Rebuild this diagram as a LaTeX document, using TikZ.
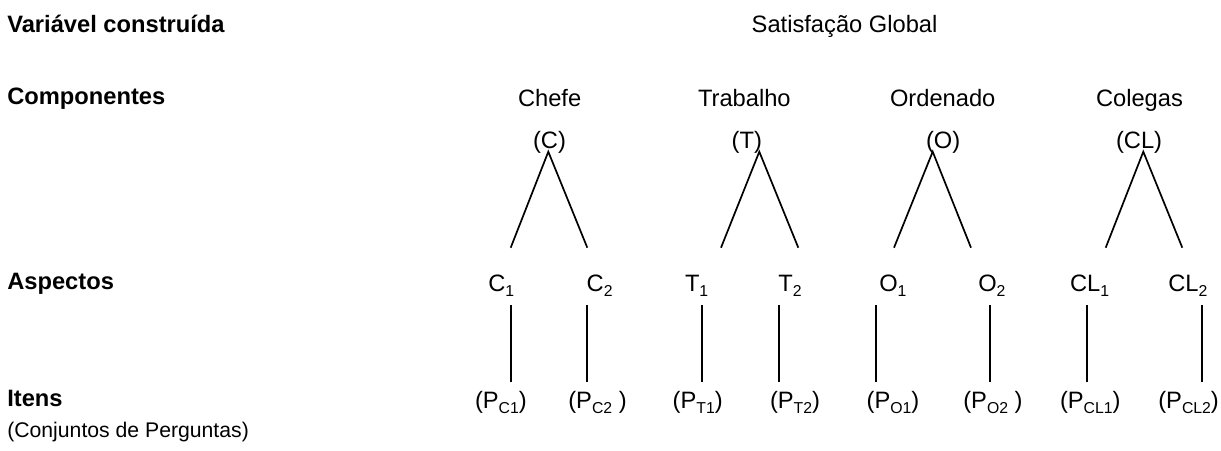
\documentclass[tikz,border=0pt]{standalone}
\usepackage{fontspec}
\setmainfont{Liberation Sans}
\newcommand\sbs[1]{\raisebox{-0.22em}{\fontsize{15.8pt}{17pt}\selectfont #1}}
\begin{document}
\begin{tikzpicture}[x=1pt,y=-1pt,
  lbl/.style={font=\fontsize{23.7pt}{28pt}\selectfont, inner sep=0pt, outer sep=0pt, anchor=base west},
  hdr/.style={lbl, font=\fontsize{23.7pt}{28pt}\selectfont\bfseries},
  small/.style={lbl, font=\fontsize{21.2pt}{25pt}\selectfont},
  edge/.style={line width=1.7pt, black}]
\useasboundingbox (0,0) rectangle (1221,450);
% left column
\node[hdr] (vc) at (7.3,32) {Variável construída};
\node[hdr] (comp) at (7.3,104.5) {Componentes};
\node[hdr] (asp) at (7.3,289.5) {Aspectos};
\node[hdr] (itn) at (7.3,406) {Itens};
\node[small] (conj) at (7.3,437) {(Conjuntos de Perguntas)};
% top
\node[lbl] (sg) at (751.7,32) {Satisfação Global};
% components
\node[lbl] (chefe) at (518,106.7) {Chefe};
\node[lbl] (trab) at (698,106.7) {Trabalho};
\node[lbl] (orden) at (890,106.7) {Ordenado};
\node[lbl] (coleg) at (1096,106.7) {Colegas};
\node[lbl] (Cc) at (533,148) {(C)};
\node[lbl] (Tc) at (731.7,148) {(T)};
\node[lbl] (Oc) at (926,148) {(O)};
\node[lbl] (CLc) at (1116,148) {(CL)};
% aspects
\node[lbl] (C1) at (488.3,291.7) {C\sbs{1}};
\node[lbl] (C2) at (586.7,291.7) {C\sbs{2}};
\node[lbl] (T1) at (685,291.7) {T\sbs{1}};
\node[lbl] (T2) at (778.3,291.7) {T\sbs{2}};
\node[lbl] (O1) at (879.3,291.7) {O\sbs{1}};
\node[lbl] (O2) at (978.3,291.7) {O\sbs{2}};
\node[lbl] (CL1) at (1070,291.7) {CL\sbs{1}};
\node[lbl] (CL2) at (1168.3,291.7) {CL\sbs{2}};
% items
\node[lbl] (PC1) at (475,408.3) {(P\sbs{C1})};
\node[lbl] (PC2) at (568.3,408.3) {(P\sbs{C2} )};
\node[lbl] (PT1) at (672.7,408.3) {(P\sbs{T1})};
\node[lbl] (PT2) at (770,408.3) {(P\sbs{T2})};
\node[lbl] (PO1) at (866.7,408.3) {(P\sbs{O1})};
\node[lbl] (PO2) at (963.3,408.3) {(P\sbs{O2} )};
\node[lbl] (PCL1) at (1060,408.3) {(P\sbs{CL1})};
\node[lbl] (PCL2) at (1158.3,408.3) {(P\sbs{CL2})};
% triangle coordinates
\coordinate (Ca) at (548.3,151.7);
\coordinate (Cl) at (510.7,247.7);
\coordinate (Cr) at (587.3,247.7);
\coordinate (Ta) at (759.3,151.7);
\coordinate (Tl) at (721,247.7);
\coordinate (Tr) at (798.3,247.7);
\coordinate (Oa) at (932.7,151.7);
\coordinate (Ol) at (894,247.7);
\coordinate (Or) at (971,247.7);
\coordinate (CLa) at (1143.3,151.7);
\coordinate (CLl) at (1105.7,247.7);
\coordinate (CLr) at (1182.3,247.7);
\draw[edge] (Cl) -- (Ca) -- (Cr);
\draw[edge] (Tl) -- (Ta) -- (Tr);
\draw[edge] (Ol) -- (Oa) -- (Or);
\draw[edge] (CLl) -- (CLa) -- (CLr);
% vertical lines
\foreach \n/\x in {v1/510.7, v2/586.7, v3/702.3, v4/779, v5/875.7, v6/990, v7/1086.7, v8/1201.7}{
  \coordinate (\n t) at (\x,305);
  \coordinate (\n b) at (\x,381.7);
  \draw[edge] (\n t) -- (\n b);
}
\end{tikzpicture}
\end{document}
